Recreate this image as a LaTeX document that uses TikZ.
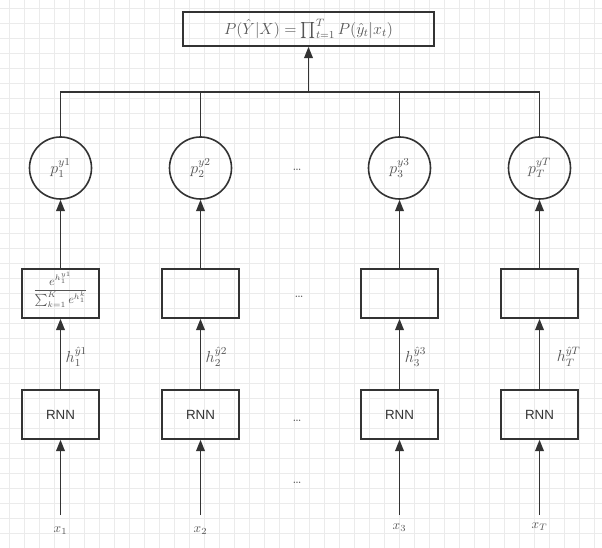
\documentclass[tikz,border=0pt]{standalone}
\usepackage{amsmath,amssymb}
\usepackage{fontspec}
\setsansfont{Liberation Sans}
\usepackage{tikz}
\usetikzlibrary{arrows.meta}

\definecolor{lineclr}{HTML}{333333}
\definecolor{txtclr}{HTML}{555555}
\definecolor{gridclr}{HTML}{EBEBEB}

\begin{document}
\begin{tikzpicture}[
  x=0.75pt, y=-0.75pt,
  every node/.style={font=\normalsize, text=txtclr},
  box/.style={draw=lineclr, line width=1.2pt, minimum width=57.75pt, minimum height=36.75pt, inner sep=0pt},
  prob/.style={draw=lineclr, line width=1.2pt, circle, minimum size=46.5pt, inner sep=0pt, font=\large},
  topbox/.style={draw=lineclr, line width=1.2pt, minimum width=188pt, minimum height=25.5pt, font=\large},
  link/.style={draw=lineclr, line width=1.2pt},
  arr/.style={link, -{Triangle[length=8.5pt, width=6.5pt]}},
  rnn/.style={box, font=\normalsize\sffamily, text=lineclr},
  hlab/.style={right, yshift=-2pt, font=\large}
]
\useasboundingbox (0,0) rectangle (602,548);
% background grid
\foreach \gx in {9,24,...,602} \draw[gridclr, line width=0.5pt] (\gx,0) -- (\gx,548);
\foreach \gy in {8,23,...,548} \draw[gridclr, line width=0.5pt] (0,\gy) -- (602,\gy);

% output
\node[topbox] (out) at (308.5,29) {$P(\hat{Y}|X) = \prod_{t=1}^{T} P(\hat{y}_t|x_t)$};

% probabilities
\node[prob] (p1) at (60.5,168) {$p_1^{y1}$};
\node[prob] (p2) at (200.5,168) {$p_2^{y2}$};
\node[prob] (p3) at (399.5,168) {$p_3^{y3}$};
\node[prob] (pT) at (539.5,168) {$p_T^{yT}$};

% softmax boxes
\node[box] (s1) at (60.5,293.5) {};
\node[box] (s2) at (200.5,293.5) {};
\node[box] (s3) at (399.5,293.5) {};
\node[box] (sT) at (539.5,293.5) {};
\node[font=\small, inner sep=0pt] (f1) at (60.5,289.5) {$\dfrac{e^{h_1^{y1}}}{\sum_{k=1}^{K} e^{h_1^{k}}}$};

% RNN cells
\node[rnn] (r1) at (60.5,414.5) {RNN};
\node[rnn] (r2) at (200.5,414.5) {RNN};
\node[rnn] (r3) at (399.5,414.5) {RNN};
\node[rnn] (rT) at (539.5,414.5) {RNN};

% inputs
\coordinate (i1) at (60.5,515);
\coordinate (i2) at (200.5,515);
\coordinate (i3) at (399.5,515);
\coordinate (iT) at (539.5,515);
\node (x1) at (60.5,531) {$x_1$};
\node (x2) at (200.5,531) {$x_2$};
\node (x3) at (399.5,528) {$x_3$};
\node (xT) at (539.5,527) {$x_T$};

% dots
\node (d1) at (297,170) {\ldots};
\node (d2) at (299,297) {\ldots};
\node (d3) at (297,421) {\ldots};
\node (d4) at (297,483) {\ldots};

% connectors
\coordinate (bus) at (308.5,92);
\draw[arr] (bus) -- (out.south);
\draw[link] (p1.north) |- (bus);
\draw[link] (p2.north) |- (bus);
\draw[link] (p3.north) |- (bus);
\draw[link] (pT.north) |- (bus);

\draw[arr] (s1.north) -- (p1.south);
\draw[arr] (s2.north) -- (p2.south);
\draw[arr] (s3.north) -- (p3.south);
\draw[arr] (sT.north) -- (pT.south);

\draw[arr] (r1.north) -- node[hlab] (h1) {$h_1^{\hat{y}1}$} (s1.south);
\draw[arr] (r2.north) -- node[hlab] (h2) {$h_2^{\hat{y}2}$} (s2.south);
\draw[arr] (r3.north) -- node[hlab] (h3) {$h_3^{\hat{y}3}$} (s3.south);
\draw[arr] (rT.north) -- node[hlab, xshift=9pt] (hT) {$h_T^{\hat{y}T}$} (sT.south);

\draw[arr] (i1) -- (r1.south);
\draw[arr] (i2) -- (r2.south);
\draw[arr] (i3) -- (r3.south);
\draw[arr] (iT) -- (rT.south);
\end{tikzpicture}
\end{document}
